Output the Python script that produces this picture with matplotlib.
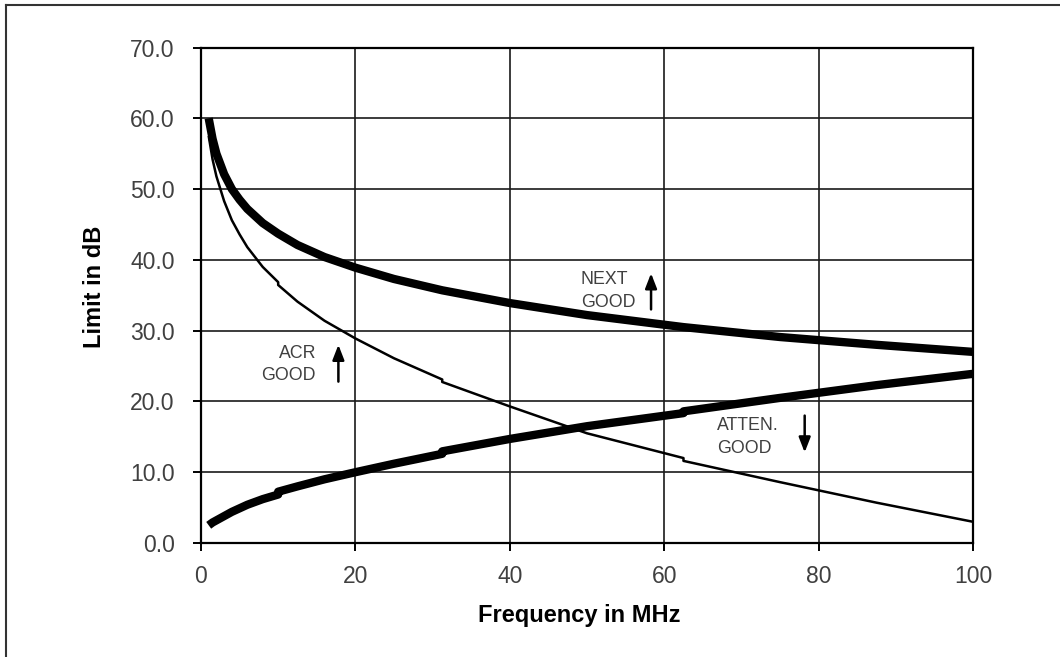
"""
Cat 5 channel limits: NEXT, attenuation and ACR versus frequency.
"""

import matplotlib
matplotlib.use("Agg")
from matplotlib import pyplot as plt
from matplotlib.lines import Line2D

# frequencies in MHz (repeated where the limit curves step)
freq_mhz = [1, 1.5, 2, 3, 4, 5, 6, 8, 10, 10, 12.5, 16, 20, 25, 31.25, 31.25,
            40, 50, 62.5, 62.5, 75, 87.5, 100]

# limits in dB
next_db = [60.0, 57.1, 55.0, 52.1, 50.0, 48.5, 47.2, 45.2, 43.7, 43.7, 42.1, 40.4,
           38.9, 37.3, 35.7, 35.7, 33.9, 32.2, 30.5, 30.5, 29.1, 28.0, 27.0]
atten_db = [2.5, 2.9, 3.2, 3.8, 4.4, 4.9, 5.4, 6.2, 6.85, 7.25, 8.0, 9.0,
            10.0, 11.2, 12.6, 12.95, 14.7, 16.5, 18.35, 18.6, 20.5, 22.3, 23.9]
acr_db = [57.5, 54.2, 51.8, 48.3, 45.6, 43.6, 41.8, 39.0, 36.85, 36.45, 34.1, 31.4,
          28.9, 26.1, 23.1, 22.75, 19.3, 15.5, 12.0, 11.6, 8.6, 5.7, 3.0]

x_ticks = [0, 20, 40, 60, 80, 100]
y_ticks = [0, 10, 20, 30, 40, 50, 60, 70]

# annotation text: (lines, x, first baseline, second baseline, align)
notes = [
    (["ACR", "GOOD"], 14.9, 26.1, 23.0, "right"),
    (["NEXT", "GOOD"], 49.2, 36.6, 33.3, "left"),
    (["ATTEN.", "GOOD"], 66.8, 16.0, 12.7, "left"),
]
# arrows: (x, tail, head)
arrows = [(17.8, 22.8, 28.0), (58.3, 33.0, 38.1), (78.2, 18.0, 12.8)]

plt.rcParams["font.family"] = ["Liberation Sans", "DejaVu Sans"]
TEXT_GREY = "#404040"

fig = plt.figure(figsize=(10.6, 6.57), dpi=100)
ax = fig.add_axes([0.1896, 0.1735, 0.7283, 0.7542])

ax.plot(freq_mhz, next_db, color="black", lw=6.0, solid_capstyle="butt", zorder=3)
ax.plot(freq_mhz, atten_db, color="black", lw=6.0, solid_capstyle="butt", zorder=3)
ax.plot(freq_mhz, acr_db, color="black", lw=1.8, solid_capstyle="butt", zorder=3)

ax.set_xlim(0, 100)
ax.set_ylim(0, 70)
ax.set_xticks(x_ticks)
ax.set_yticks(y_ticks)
ax.set_yticklabels([f"{v:.1f}" for v in y_ticks])
ax.tick_params(axis="both", direction="out", length=6, width=1.4, color="black",
               labelsize=16.5, labelcolor=TEXT_GREY)
ax.tick_params(axis="y", pad=13)
ax.tick_params(axis="x", pad=10)
ax.grid(True, color="#1a1a1a", lw=1.2)
ax.set_axisbelow(True)
for sp in ax.spines.values():
    sp.set_linewidth(1.6)
    sp.set_color("black")

for lines, x, y1, y2, ha in notes:
    ax.text(x, y1, lines[0], ha=ha, va="baseline", fontsize=12.8, color=TEXT_GREY)
    ax.text(x, y2, lines[1], ha=ha, va="baseline", fontsize=12.8, color=TEXT_GREY)

for x, tail, head in arrows:
    ax.annotate("", xy=(x, head), xytext=(x, tail),
                arrowprops=dict(arrowstyle="-|>,head_length=0.9,head_width=0.35",
                                color="black", lw=1.8, shrinkA=0, shrinkB=0))

fig.text(0.546, 0.0537, "Frequency in MHz", ha="center", va="baseline",
         fontsize=17, fontweight="bold", color="black")
fig.text(0.0887, 0.5636, "Limit in dB", ha="center", va="center", rotation=90,
         fontsize=17, fontweight="bold", color="black")

# outer frame (runs off the right and bottom edges)
fig.add_artist(Line2D([0.0057, 1.0], [0.9924, 0.9924], transform=fig.transFigure,
                      color="#333333", lw=1.5))
fig.add_artist(Line2D([0.0057, 0.0057], [0.0, 0.9924], transform=fig.transFigure,
                      color="#333333", lw=1.5))

fig.savefig("out.png", dpi=100)
